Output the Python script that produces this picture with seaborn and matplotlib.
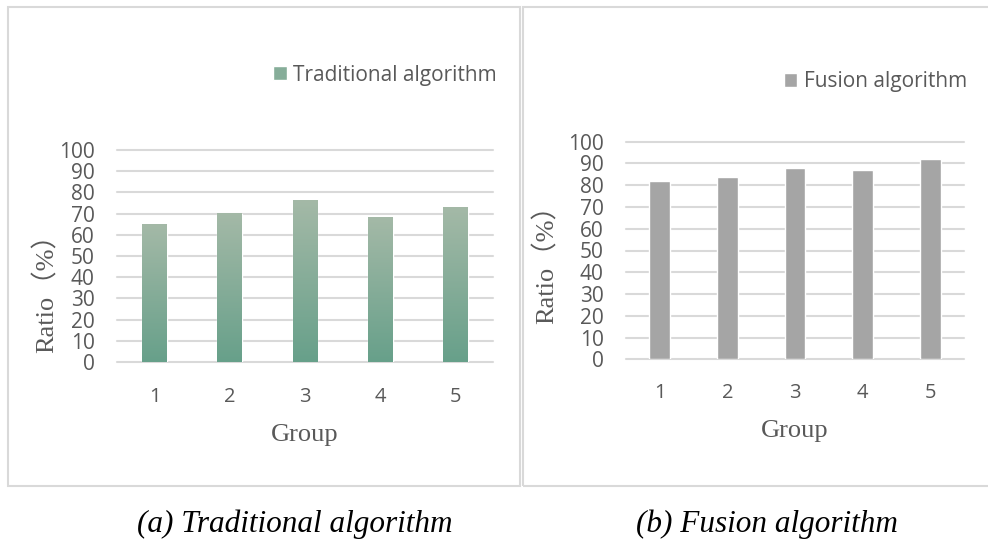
import matplotlib
matplotlib.use("Agg")
import matplotlib.pyplot as plt
from matplotlib.colors import LinearSegmentedColormap
from matplotlib.patches import Rectangle
import numpy as np
import pandas as pd
import seaborn as sns

# data
groups = ["1", "2", "3", "4", "5"]
traditional = [65, 70, 76, 68, 73]
fusion = [82, 84, 88, 87, 92]
y_ticks = list(range(0, 101, 10))
captions = ["(a) Traditional algorithm", "(b) Fusion algorithm"]

sns.set_theme(style="white")
plt.rcParams['font.family'] = ['Open Sans', 'DejaVu Sans']

W, H = 988, 542
fig = plt.figure(figsize=(W / 100, H / 100), dpi=100)

GRAY_TXT = '#595959'
SERIF = ['Liberation Serif', 'Noto Sans CJK SC', 'DejaVu Sans']


def px_rect(x0, y0, x1, y1):
    """pixel box (top-left origin) -> figure fraction rect"""
    return [x0 / W, 1 - y1 / H, (x1 - x0) / W, (y1 - y0) / H]


def draw_panel(ax, values, label, color, bar_width, grad=None):
    df = pd.DataFrame({"Group": groups, "Ratio": values})
    sns.barplot(data=df, x="Group", y="Ratio", color=color, saturation=1,
                width=bar_width, ax=ax, zorder=3)
    xlim, ylim = ax.get_xlim(), (0, 100)

    # per-bar vertical gradient like the office chart
    if grad is not None:
        cmap = LinearSegmentedColormap.from_list("g", grad)
        ramp = np.linspace(0, 1, 256).reshape(-1, 1)
        for bar in ax.patches:
            bb = bar.get_bbox()
            ax.imshow(ramp, extent=[bb.x0, bb.x1, bb.y0, bb.y1], origin='lower',
                      aspect='auto', cmap=cmap, zorder=3.5)

    ax.set_xlim(xlim)
    ax.set_ylim(ylim)
    ax.set_yticks(y_ticks)
    sns.despine(ax=ax, left=True, bottom=True)
    ax.set_axisbelow(True)
    ax.yaxis.grid(True, color='#d9d9d9', linewidth=1.5)
    for gl in ax.get_ygridlines():
        gl.set_clip_on(False)
    ax.tick_params(axis='both', length=0, labelcolor=GRAY_TXT)
    ax.tick_params(axis='y', pad=16, labelsize=15)
    ax.tick_params(axis='x', labelsize=14.5)

    ax.set_xlabel("Group", family=SERIF, fontsize=19, color=GRAY_TXT, va='baseline')
    ax.set_ylabel("Ratio（%）", family=SERIF, fontsize=19, color=GRAY_TXT, va='center')
    return ax


# left panel
ax1 = fig.add_axes(px_rect(117, 150, 493, 362))
draw_panel(ax1, traditional, "Traditional algorithm", '#86ad99', 0.33,
           grad=['#67a08a', '#a4b9a7'])
ax1.tick_params(axis='x', pad=18)
ax1.xaxis.set_label_coords(0.5, (362 - 441) / 212)
ax1.yaxis.set_label_coords((46 - 117) / 376, (362 - 287.5) / 212)
ax1.legend([ax1.patches[0]], ["Traditional algorithm"], loc='center left',
           bbox_to_anchor=(273 / W, 1 - 75 / H), bbox_transform=fig.transFigure,
           frameon=False, fontsize=15, labelcolor=GRAY_TXT, borderpad=0,
           borderaxespad=0, handlelength=0.67, handleheight=0.67, handletextpad=0.3)

# right panel
ax2 = fig.add_axes(px_rect(626, 141.7, 964, 359.3))
draw_panel(ax2, fusion, "Fusion algorithm", '#a5a5a5', 0.31)
ax2.tick_params(axis='x', pad=17)
ax2.xaxis.set_label_coords(0.5, (359.3 - 437) / 217.6)
ax2.yaxis.set_label_coords((546 - 626) / 338, (359.3 - 258) / 217.6)
ax2.legend([ax2.patches[0]], ["Fusion algorithm"], loc='center left',
           bbox_to_anchor=(784 / W, 1 - 81.5 / H), bbox_transform=fig.transFigure,
           frameon=False, fontsize=15, labelcolor=GRAY_TXT, borderpad=0,
           borderaxespad=0, handlelength=0.64, handleheight=0.64, handletextpad=0.33)

# chart area borders
for x0, x1 in [(8, 520), (523, 992)]:
    r = px_rect(x0, 7, x1, 486)
    fig.add_artist(Rectangle((r[0], r[1]), r[2], r[3], transform=fig.transFigure,
                             fill=False, edgecolor='#d9d9d9', linewidth=1.5))

# captions
fig.text(295 / W, 1 - 532 / H, captions[0], family=SERIF, style='italic',
         fontsize=22.5, ha='center', va='baseline', color='black')
fig.text(767 / W, 1 - 532 / H, captions[1], family=SERIF, style='italic',
         fontsize=22.5, ha='center', va='baseline', color='black')

fig.savefig("out.png", dpi=100)
